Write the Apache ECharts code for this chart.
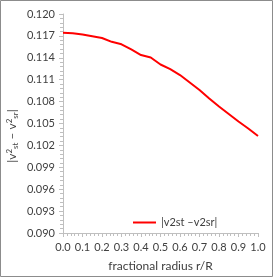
<!DOCTYPE html>
<html><head><meta charset="utf-8">
<script src="https://cdn.jsdelivr.net/npm/echarts@6/dist/echarts.min.js"></script>
<style>html,body{margin:0;padding:0;background:#fff}#c{width:273px;height:277px}</style>
</head><body><div id="c"></div>
<script>
const radius = [0.0,0.05,0.1,0.15,0.2,0.25,0.3,0.35,0.4,0.45,0.5,0.55,0.6,0.65,0.7,0.75,0.8,0.85,0.9,0.95,1.0];
const diff = [0.11744,0.11737,0.11719,0.11695,0.11671,0.11619,0.11585,0.11514,0.11438,0.11404,0.11308,0.11244,0.11164,0.11062,0.10959,0.10843,0.10733,0.10630,0.10527,0.10432,0.10329];
const seriesName = '|v2st \u2013v2sr|';
const xTitle = 'fractional radius r/R';

const chart = echarts.init(document.getElementById('c'), null, {renderer:'canvas'});
const font = 'Lato, "Open Sans", sans-serif';
chart.setOption({
  animation:false,
  backgroundColor:'#fff',
  grid:{left:63,right:15,top:14,bottom:44},
  legend:{
    data:[{name:seriesName,icon:'rect'}],
    left:128, top:212, itemWidth:23, itemHeight:2, itemGap:4,
    textStyle:{fontFamily:font,fontSize:11,color:'#404040'}
  },
  xAxis:{
    type:'value', min:0, max:1, interval:0.1,
    name:xTitle, nameLocation:'middle', nameGap:27,
    nameTextStyle:{fontFamily:font,fontSize:12,color:'#404040'},
    axisLine:{lineStyle:{color:'#bfbfbf'}},
    axisTick:{show:true,length:4,inside:false,lineStyle:{color:'#bfbfbf'}},
    minorTick:{show:true,splitNumber:5,length:3,lineStyle:{color:'#bfbfbf'}},
    axisLabel:{formatter:v=>v.toFixed(1),fontFamily:font,fontSize:11,color:'#404040',margin:9},
    splitLine:{show:false}
  },
  yAxis:{
    type:'value', min:0.090, max:0.120, interval:0.003,
    axisLine:{show:true,lineStyle:{color:'#bfbfbf'}},
    axisTick:{show:true,length:4,lineStyle:{color:'#bfbfbf'}},
    minorTick:{show:true,splitNumber:5,length:3,lineStyle:{color:'#bfbfbf'}},
    axisLabel:{formatter:v=>v.toFixed(3),fontFamily:font,fontSize:11,color:'#404040',margin:8},
    splitLine:{show:false}
  },
  graphic:[
    {type:'rect',shape:{x:0.5,y:0.5,width:272,height:276},style:{fill:null,stroke:'#8c8c8c',lineWidth:1},silent:true},
    {type:'text',x:12,y:136,rotation:Math.PI/2,
     style:{
       text:'|v{sup|2}{sub|st} \u2013 v{sup|2}{sub|sr}|',
       fontFamily:font,fontSize:12,fill:'#404040',align:'center',verticalAlign:'middle',
       rich:{sup:{fontSize:8,verticalAlign:'top',padding:[0,0,6,0],fill:'#404040',fontFamily:font},
             sub:{fontSize:8,verticalAlign:'bottom',padding:[6,0,0,0],fill:'#404040',fontFamily:font}}
     }}
  ],
  series:[{
    name:seriesName,type:'line',data:radius.map((r,i)=>[r,diff[i]]),
    showSymbol:false,smooth:false,lineStyle:{color:'#ff0000',width:2},itemStyle:{color:'#ff0000'}
  }]
});
</script></body></html>
